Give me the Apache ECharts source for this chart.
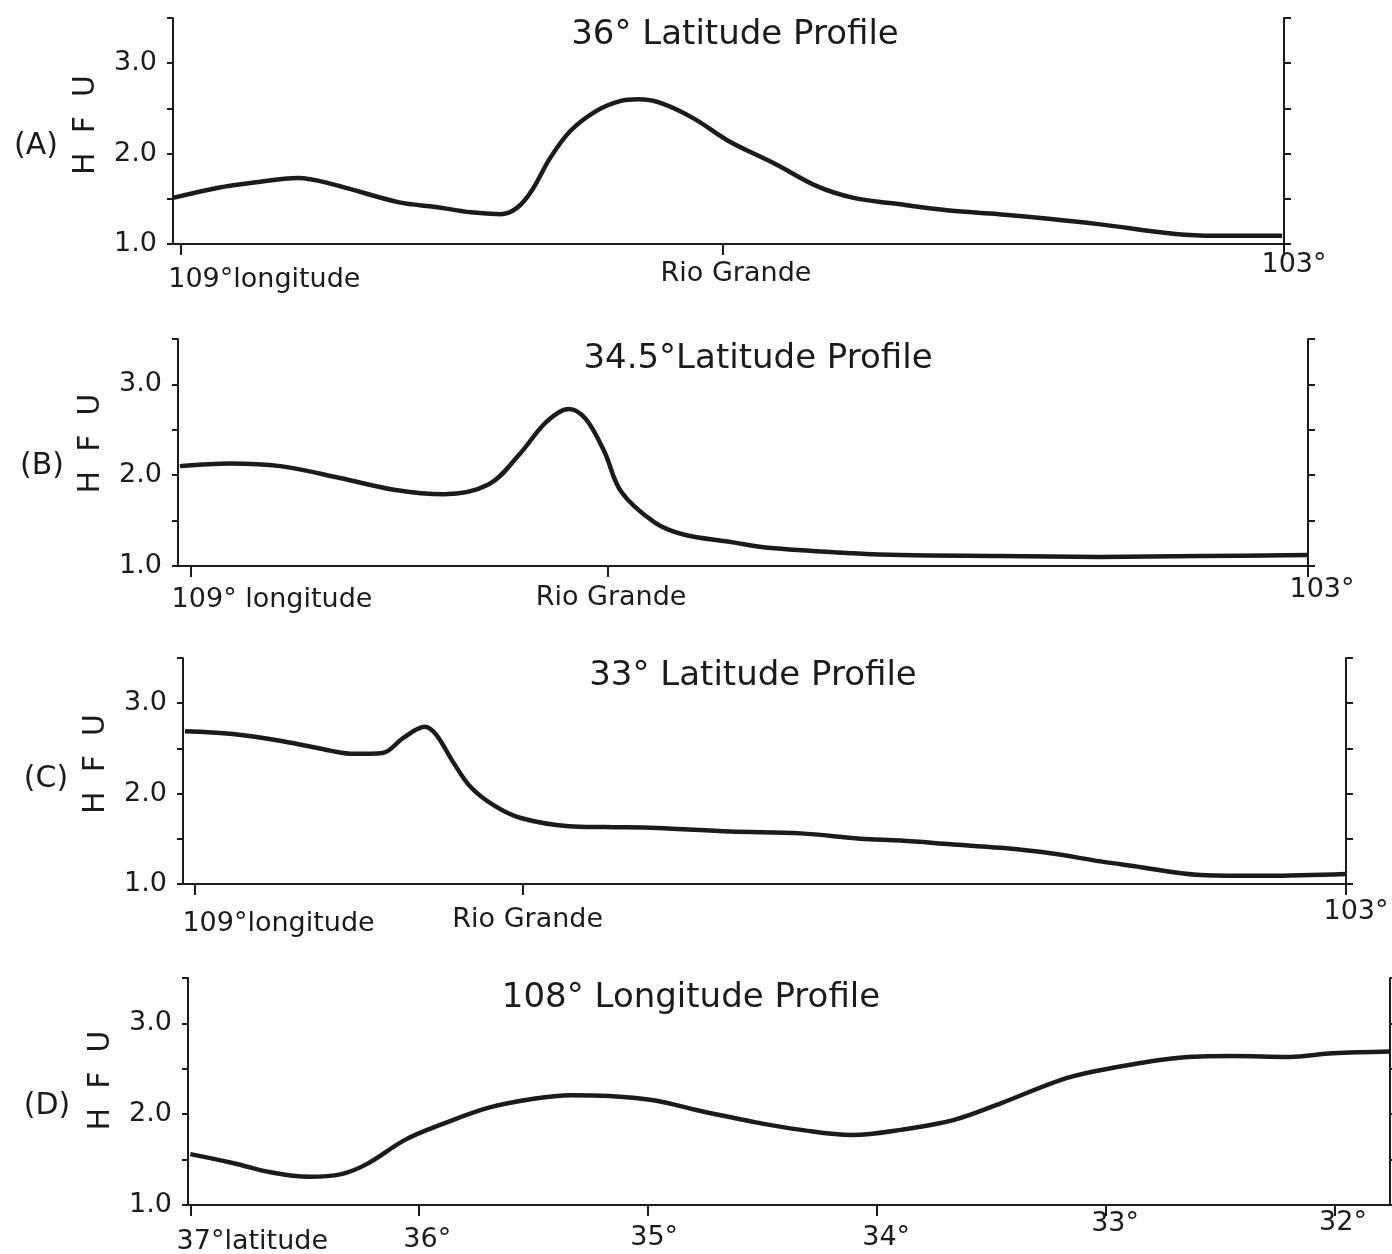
<!DOCTYPE html>
<html>
<head>
<meta charset="utf-8">
<script src="https://cdn.jsdelivr.net/npm/echarts@6/dist/echarts.min.js"></script>
<style>
  body { margin: 0; background: #fff; }
  #chart { width: 1392px; height: 1254px; }
</style>
</head>
<body>
<div id="chart"></div>
<script>
// (A) 36 deg latitude profile, longitude vs heat flow (HFU)
var lonA = [109.04, 108.80, 108.60, 108.36, 108.17, 107.81, 107.61, 107.42, 107.26, 107.17, 107.09, 106.99, 106.88, 106.74, 106.61, 106.51, 106.39, 106.21, 106.02, 105.77, 105.54, 105.34, 105.13, 104.82, 104.55, 104.28, 104.01, 103.59, 103.37, 103.01];
var hfuA = [1.51, 1.62, 1.68, 1.73, 1.66, 1.46, 1.41, 1.35, 1.33, 1.40, 1.59, 1.95, 2.25, 2.47, 2.58, 2.60, 2.56, 2.39, 2.14, 1.89, 1.64, 1.51, 1.45, 1.37, 1.33, 1.28, 1.22, 1.11, 1.09, 1.09];

// (B) 34.5 deg latitude profile
var lonB = [109.06, 108.79, 108.52, 108.20, 107.91, 107.64, 107.40, 107.24, 107.09, 106.97, 106.88, 106.78, 106.69, 106.51, 106.36, 106.09, 105.90, 105.44, 105.19, 104.66, 104.12, 103.58, 103.0];
var hfuB = [2.10, 2.13, 2.10, 1.97, 1.84, 1.79, 1.90, 2.22, 2.59, 2.73, 2.62, 2.26, 1.82, 1.48, 1.35, 1.26, 1.20, 1.14, 1.12, 1.11, 1.10, 1.11, 1.12];

// (C) 33 deg latitude profile
var lonC = [109.05, 108.80, 108.54, 108.28, 108.17, 108.02, 107.91, 107.80, 107.74, 107.65, 107.56, 107.44, 107.30, 107.05, 106.86, 106.59, 106.21, 105.84, 105.53, 105.32, 105.06, 104.80, 104.54, 104.28, 104.11, 103.76, 103.41, 103.0];
var hfuC = [2.69, 2.66, 2.58, 2.47, 2.44, 2.45, 2.62, 2.74, 2.65, 2.34, 2.07, 1.87, 1.73, 1.64, 1.63, 1.62, 1.58, 1.56, 1.50, 1.48, 1.44, 1.40, 1.34, 1.25, 1.20, 1.10, 1.09, 1.11];

// (D) 108 deg longitude profile, latitude vs heat flow
var latD = [37.0, 36.81, 36.65, 36.48, 36.34, 36.23, 36.06, 35.90, 35.70, 35.50, 35.34, 35.17, 34.97, 34.78, 34.53, 34.34, 34.11, 33.89, 33.66, 33.46, 33.17, 32.95, 32.69, 32.45, 32.20, 32.01, 31.76];
var hfuD = [1.56, 1.46, 1.36, 1.31, 1.34, 1.45, 1.72, 1.89, 2.07, 2.17, 2.21, 2.20, 2.15, 2.04, 1.91, 1.83, 1.77, 1.83, 1.94, 2.12, 2.40, 2.52, 2.62, 2.64, 2.63, 2.67, 2.69];

// x tick positions and their labels
var xTicksA = [109, 106.05, 103];
var xLabelsA = ['109°longitude', 'Rio Grande', '103°'];
var xTicksB = [109, 106.76, 103];
var xLabelsB = ['109° longitude', 'Rio Grande', '103°'];
var xTicksC = [109, 107.29, 103];
var xLabelsC = ['109°longitude', 'Rio Grande', '103°'];
var xTicksD = [37, 36, 35, 34, 33, 32];
var xLabelsD = ['37°latitude', '36°', '35°', '34°', '33°', '32°'];

var titles = ['36° Latitude Profile', '34.5°Latitude Profile', '33° Latitude Profile', '108° Longitude Profile'];
var letters = ['(A)', '(B)', '(C)', '(D)'];

var ink = '#1b1b1b';
var font = 'DejaVu Sans';

// layout of each panel (pixels); shift = [dx, dy] of each x label centre from its tick
var panels = [
    { x: lonA, y: hfuA, ticks: xTicksA, labels: xLabelsA, min: 103, max: 109.04,
      grid: { left: 173, top: 18, width: 1111, height: 226 },
      title: [735, 35], letter: [36, 146], namePad: 12,
      shift: [[84, 33], [13, 27], [10, 18]] },
    { x: lonB, y: hfuB, ticks: xTicksB, labels: xLabelsB, min: 103, max: 109.07,
      grid: { left: 178, top: 339, width: 1130, height: 227 },
      title: [758, 359], letter: [42, 466], namePad: 18,
      shift: [[81, 31], [3, 29], [14, 21]] },
    { x: lonC, y: hfuC, ticks: xTicksC, labels: xLabelsC, min: 103, max: 109.06,
      grid: { left: 183, top: 658, width: 1163, height: 226 },
      title: [753, 676], letter: [46, 779], namePad: 14,
      shift: [[84, 37], [5, 33], [10, 25]] },
    { x: latD, y: hfuD, ticks: xTicksD, labels: xLabelsD, min: 31.76, max: 37.01,
      grid: { left: 188, top: 978, width: 1202, height: 227 },
      title: [691, 998], letter: [47, 1106], namePad: 22,
      shift: [[62, 34], [8, 32], [6, 30], [9, 30], [9, 16], [8, 15]] }
];

var chart = echarts.init(document.getElementById('chart'));

var option = {
    backgroundColor: '#ffffff',
    animation: false,
    title: [],
    grid: [],
    xAxis: [],
    yAxis: [],
    series: []
};

panels.forEach(function (p, i) {
    option.title.push({
        text: titles[i], left: p.title[0], top: p.title[1], padding: 0,
        textAlign: 'center', textVerticalAlign: 'middle',
        textStyle: { fontFamily: font, fontSize: 34, fontWeight: 'normal', color: ink }
    });
    option.title.push({
        text: letters[i], left: p.letter[0], top: p.letter[1], padding: 0,
        textAlign: 'center', textVerticalAlign: 'middle',
        textStyle: { fontFamily: font, fontSize: 30, fontWeight: 'normal', color: ink }
    });

    option.grid.push(Object.assign({ containLabel: false, outerBoundsMode: 'none' }, p.grid));

    // top padding only moves a rich token by half its size
    var rich = {};
    p.shift.forEach(function (s, k) {
        rich['l' + k] = {
            fontFamily: font, fontSize: 27, color: ink, lineHeight: 30,
            padding: [Math.max(0, 2 * (s[1] - 14)), 0, 0, 2 * s[0]]
        };
    });

    option.xAxis.push({
        type: 'value', gridIndex: i, inverse: true, min: p.min, max: p.max,
        axisLine: { show: true, lineStyle: { color: ink, width: 2 } },
        axisTick: { show: true, customValues: p.ticks, length: 11, lineStyle: { color: ink, width: 2 } },
        axisLabel: {
            show: true, customValues: p.ticks, margin: 2, rich: rich, hideOverlap: false,
            formatter: function (value) {
                var k = p.ticks.findIndex(function (t) { return Math.abs(t - value) < 1e-6; });
                return k < 0 ? '' : '{l' + k + '|' + p.labels[k] + '}';
            }
        },
        splitLine: { show: false }
    });

    option.yAxis.push({
        type: 'value', gridIndex: i, min: 1, max: 3.5, interval: 0.5,
        name: 'H  F  U', nameLocation: 'middle', nameRotate: 90, nameGap: 72,
        nameTextStyle: { fontFamily: font, fontSize: 30, color: ink, padding: [0, 0, 0, p.namePad] },
        axisLine: { show: true, lineStyle: { color: ink, width: 2 } },
        axisTick: { show: true, length: 6, lineStyle: { color: ink, width: 2 } },
        axisLabel: {
            margin: 16, fontFamily: font, fontSize: 27, color: ink,
            formatter: function (v) { return Math.abs(v - Math.round(v)) < 1e-6 ? v.toFixed(1) : ''; }
        },
        splitLine: { show: false }
    });
    option.yAxis.push({
        type: 'value', gridIndex: i, position: 'right', min: 1, max: 3.5, interval: 0.5,
        axisLine: { show: true, lineStyle: { color: ink, width: 2 } },
        axisTick: { show: true, length: 7, lineStyle: { color: ink, width: 2 } },
        axisLabel: { show: false },
        splitLine: { show: false }
    });

    option.series.push({
        type: 'line', xAxisIndex: i, yAxisIndex: 2 * i,
        data: p.x.map(function (v, k) { return [v, p.y[k]]; }),
        smooth: 0.35, showSymbol: false, symbol: 'none',
        lineStyle: { color: ink, width: 4.5 }
    });
});

chart.setOption(option);
</script>
</body>
</html>
